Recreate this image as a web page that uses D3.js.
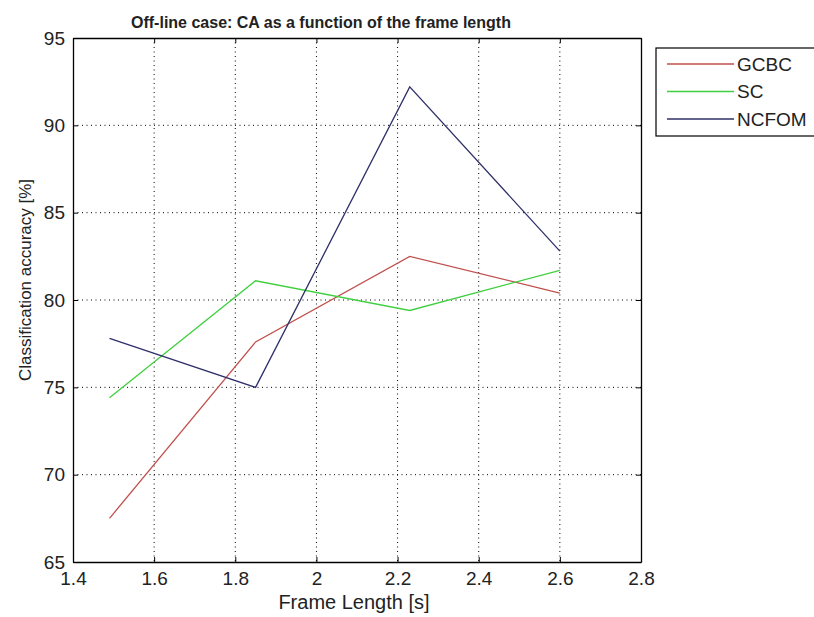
<!DOCTYPE html>
<html>
<head>
<meta charset="utf-8">
<script src="https://cdn.jsdelivr.net/npm/d3@7"></script>
<style>
  body { margin: 0; background: #fff; }
  text { font-family: Arial, "Liberation Sans", sans-serif; fill: #222; }
</style>
</head>
<body>
<div id="chart"></div>
<script>
// frame lengths [s]
var frameLength = [1.49, 1.85, 2.23, 2.6];
// classification accuracy [%]
var gcbc  = [67.5, 77.6, 82.5, 80.4];
var sc    = [74.4, 81.1, 79.4, 81.7];
var ncfom = [77.8, 75.0, 92.2, 82.8];
var seriesNames = ['GCBC', 'SC', 'NCFOM'];
var seriesColors = ['#c0504d', '#3fcf3f', '#2f2f6a'];
var xTicks = [1.4, 1.6, 1.8, 2, 2.2, 2.4, 2.6, 2.8];
var yTicks = [65, 70, 75, 80, 85, 90, 95];

var W = 814, H = 617;
var plotL = 73, plotR = 641, plotT = 38, plotB = 562;

var svg = d3.select('#chart').append('svg')
  .attr('width', W)
  .attr('height', H);

var x = d3.scaleLinear().domain([1.4, 2.8]).range([plotL, plotR]);
var y = d3.scaleLinear().domain([65, 95]).range([plotB, plotT]);

// dotted grid
svg.append('g').selectAll('line').data(xTicks.slice(1, -1))
  .enter().append('line')
  .attr('x1', function (d) { return x(d); })
  .attr('x2', function (d) { return x(d); })
  .attr('y1', plotT).attr('y2', plotB)
  .attr('stroke', '#000').attr('stroke-width', 1)
  .attr('stroke-dasharray', '1,3.5');
svg.append('g').selectAll('line').data(yTicks.slice(1, -1))
  .enter().append('line')
  .attr('y1', function (d) { return y(d); })
  .attr('y2', function (d) { return y(d); })
  .attr('x1', plotL).attr('x2', plotR)
  .attr('stroke', '#000').attr('stroke-width', 1)
  .attr('stroke-dasharray', '1,3.5');

// axes (ticks pointing inward, matlab box)
var fmt = function (d) { return String(d); };
var gx = svg.append('g').attr('transform', 'translate(0,' + plotB + ')')
  .call(d3.axisBottom(x).tickValues(xTicks).tickFormat(fmt).tickSizeInner(-5).tickSizeOuter(0).tickPadding(10));
var gxt = svg.append('g').attr('transform', 'translate(0,' + plotT + ')')
  .call(d3.axisTop(x).tickValues(xTicks).tickFormat('').tickSizeInner(-5).tickSizeOuter(0));
var gy = svg.append('g').attr('transform', 'translate(' + plotL + ',0)')
  .call(d3.axisLeft(y).tickValues(yTicks).tickFormat(fmt).tickSizeInner(-5).tickSizeOuter(0).tickPadding(8));
var gyr = svg.append('g').attr('transform', 'translate(' + plotR + ',0)')
  .call(d3.axisRight(y).tickValues(yTicks).tickFormat('').tickSizeInner(-5).tickSizeOuter(0));

[gx, gxt, gy, gyr].forEach(function (g) {
  g.select('.domain').attr('stroke', '#000').attr('stroke-width', 1.3);
  g.selectAll('.tick line').attr('stroke', '#000');
  g.selectAll('.tick text').attr('font-size', 19).style('font-family', 'Arial, "Liberation Sans", sans-serif').attr('fill', '#222');
});
gy.selectAll('.tick text').attr('dy', '0.32em');

// lines
var line = d3.line()
  .x(function (d, i) { return x(frameLength[i]); })
  .y(function (d) { return y(d); });

[gcbc, sc, ncfom].forEach(function (vals, k) {
  svg.append('path')
    .datum(vals)
    .attr('d', line)
    .attr('fill', 'none')
    .attr('stroke', seriesColors[k])
    .attr('stroke-width', 1.3);
});

// title and labels
svg.append('text')
  .attr('x', 131).attr('y', 28)
  .attr('font-size', 16).attr('font-weight', 'bold')
  .attr('fill', '#000')
  .text('Off-line case: CA as a function of the frame length');

svg.append('text')
  .attr('x', (plotL + plotR) / 2 - 3).attr('y', 609)
  .attr('text-anchor', 'middle')
  .attr('font-size', 20)
  .text('Frame Length [s]');

svg.append('text')
  .attr('transform', 'translate(31,280) rotate(-90)')
  .attr('text-anchor', 'middle')
  .attr('font-size', 17)
  .text('Classification accuracy [%]');

// legend
var leg = svg.append('g');
leg.append('rect')
  .attr('x', 656).attr('y', 48)
  .attr('width', 170).attr('height', 88)
  .attr('fill', '#fff').attr('stroke', '#000').attr('stroke-width', 1.2);
seriesNames.forEach(function (name, k) {
  var ly = 64 + k * 27.5;
  leg.append('line')
    .attr('x1', 667).attr('x2', 734)
    .attr('y1', ly).attr('y2', ly)
    .attr('stroke', seriesColors[k]).attr('stroke-width', 1.3);
  leg.append('text')
    .attr('x', 737).attr('y', ly)
    .attr('dy', '0.35em')
    .attr('font-size', 19)
    .text(name);
});
</script>
</body>
</html>
